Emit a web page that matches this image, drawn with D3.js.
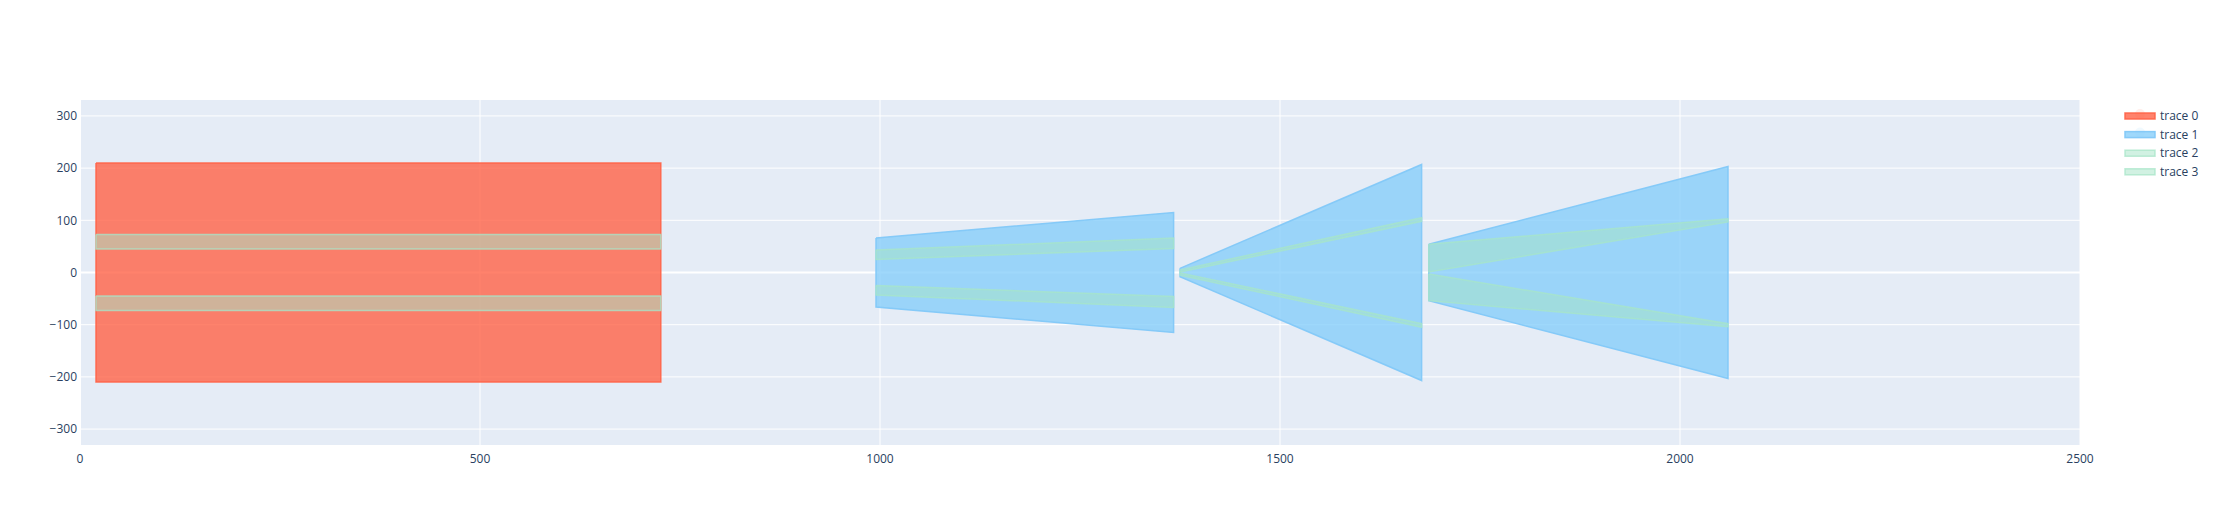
<!DOCTYPE html>
<html>
<head>
<meta charset="utf-8">
<script src="https://cdn.jsdelivr.net/npm/d3@7"></script>
<style>
    body { margin: 0; background: #fff; }
    svg text { font-family: "Open Sans", verdana, arial, sans-serif; }
</style>
</head>
<body>
<div id="chart"></div>
<script>
// Polygons per trace, separated by null (one closed outline per block)
const traceNames = ["trace 0", "trace 1", "trace 2", "trace 3"];

const trace0X = [20, 726, 726, 20, 20];
const trace0Y = [210, 210, -210, -210, 210];

const trace1X = [995, 1367, 1367, 995, 995, null,
                 1375, 1677, 1677, 1375, 1375, null,
                 1686, 2060, 2060, 1686, 1686];
const trace1Y = [66, 115, -115, -66, 66, null,
                 8, 207, -207, -8, 8, null,
                 54, 203, -203, -54, 54];

const trace2X = [20, 726, 726, 20, 20, null,
                 995, 1367, 1367, 995, 995, null,
                 1375, 1677, 1677, 1375, 1375, null,
                 1686, 2060, 2060, 1686, 1686];
const trace2Y = [73, 73, 45, 45, 73, null,
                 43, 66, 46, 25, 43, null,
                 5, 105, 98, 1, 5, null,
                 54, 103, 97, 1, 54];

const trace3X = [20, 726, 726, 20, 20, null,
                 995, 1367, 1367, 995, 995, null,
                 1375, 1677, 1677, 1375, 1375, null,
                 1686, 2060, 2060, 1686, 1686];
const trace3Y = [-45, -45, -73, -73, -45, null,
                 -25, -46, -67, -43, -25, null,
                 -1, -98, -105, -5, -1, null,
                 -3, -98, -104, -54, -3];

const xTicks = [0, 500, 1000, 1500, 2000, 2500];
const yTicks = [-300, -200, -100, 0, 100, 200, 300];

const width = 2219, height = 525;
const margin = {top: 100, right: 139, bottom: 80, left: 80};
const plotW = width - margin.left - margin.right;
const plotH = height - margin.top - margin.bottom;

const traces = [
    {x: trace0X, y: trace0Y, fill: "rgba(255,99,71,0.8)", stroke: "rgba(255,99,71,0.9)", marker: true},
    {x: trace1X, y: trace1Y, fill: "rgba(135,206,250,0.8)", stroke: "rgba(130,200,248,0.95)", marker: true},
    {x: trace2X, y: trace2Y, fill: "rgba(167,229,200,0.52)", stroke: "rgba(167,229,200,0.75)", marker: false},
    {x: trace3X, y: trace3Y, fill: "rgba(167,229,200,0.52)", stroke: "rgba(167,229,200,0.75)", marker: false}
];

const svg = d3.select("#chart").append("svg")
    .attr("width", width)
    .attr("height", height);

const x = d3.scaleLinear().domain([0, 2500]).range([0, plotW]);
const y = d3.scaleLinear().domain([-330.5, 330.5]).range([plotH, 0]);

const g = svg.append("g").attr("transform", `translate(${margin.left},${margin.top})`);

g.append("rect")
    .attr("width", plotW)
    .attr("height", plotH)
    .attr("fill", "#E5ECF6");

// grid
g.selectAll(".xgrid")
    .data(xTicks.filter(d => d !== 0))
    .enter().append("line")
    .attr("x1", d => x(d)).attr("x2", d => x(d))
    .attr("y1", 0).attr("y2", plotH)
    .attr("stroke", "#fff")
    .attr("stroke-width", 1);

g.selectAll(".ygrid")
    .data(yTicks)
    .enter().append("line")
    .attr("x1", 0).attr("x2", plotW)
    .attr("y1", d => y(d)).attr("y2", d => y(d))
    .attr("stroke", "#fff")
    .attr("stroke-width", d => d === 0 ? 2 : 1);

g.append("line")
    .attr("x1", x(0)).attr("x2", x(0))
    .attr("y1", 0).attr("y2", plotH)
    .attr("stroke", "#fff")
    .attr("stroke-width", 2);

// traces
const clip = svg.append("defs").append("clipPath").attr("id", "plotclip");
clip.append("rect").attr("width", plotW).attr("height", plotH);

const line = d3.line()
    .defined(d => d[1] !== null)
    .x(d => x(d[0]))
    .y(d => y(d[1]));

const layer = g.append("g").attr("clip-path", "url(#plotclip)");
traces.forEach(t => {
    const pts = t.x.map((v, i) => [v, t.y[i]]);
    layer.append("path")
        .attr("d", line(pts))
        .attr("fill", t.fill)
        .attr("stroke", t.stroke)
        .attr("stroke-width", 1.5)
        .attr("stroke-linejoin", "miter");
});

// axes labels
const tickColor = "#2a3f5f";
const fmt = d3.format("");

g.selectAll(".xlabel")
    .data(xTicks)
    .enter().append("text")
    .attr("x", d => x(d))
    .attr("y", plotH + 17.5)
    .attr("text-anchor", "middle")
    .attr("font-size", 12)
    .attr("fill", tickColor)
    .text(d => fmt(d));

g.selectAll(".ylabel")
    .data(yTicks)
    .enter().append("text")
    .attr("x", -3)
    .attr("y", d => y(d))
    .attr("dy", "0.35em")
    .attr("text-anchor", "end")
    .attr("font-size", 12)
    .attr("fill", tickColor)
    .text(d => fmt(d));

// legend
const legend = svg.append("g").attr("transform", "translate(2125,116)");
const item = legend.selectAll(".item")
    .data(traces)
    .enter().append("g")
    .attr("transform", (d, i) => `translate(0,${i * 18.6})`);

item.filter(d => d.marker).append("circle")
    .attr("cx", 15).attr("cy", -2).attr("r", 5)
    .attr("fill", d => d.stroke)
    .attr("opacity", 0.12);

item.append("rect")
    .attr("x", 0).attr("y", -3)
    .attr("width", 30).attr("height", 6)
    .attr("fill", d => d.fill)
    .attr("stroke", d => d.stroke)
    .attr("stroke-width", 1.5);

item.append("text")
    .attr("x", 35)
    .attr("y", 0)
    .attr("dy", "0.35em")
    .attr("font-size", 12)
    .attr("fill", tickColor)
    .text((d, i) => traceNames[i]);
</script>
</body>
</html>
